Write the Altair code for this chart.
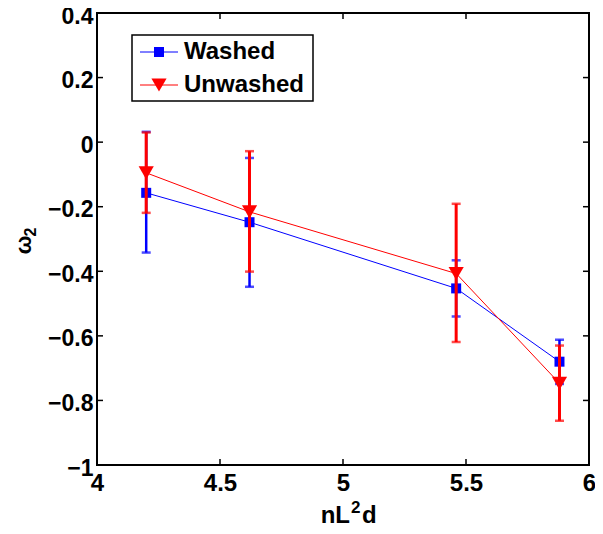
import altair as alt
import pandas as pd

# ---- data ----
x_vals = [4.20, 4.62, 5.46, 5.88]
washed_y = [-0.157, -0.248, -0.453, -0.680]
washed_lo = [-0.342, -0.448, -0.540, -0.749]
washed_hi = [0.032, -0.049, -0.366, -0.612]
unwashed_y = [-0.095, -0.216, -0.407, -0.747]
unwashed_lo = [-0.219, -0.401, -0.619, -0.863]
unwashed_hi = [0.030, -0.028, -0.191, -0.630]

x_ticks = [4, 4.5, 5, 5.5, 6]
y_ticks = [-1, -0.8, -0.6, -0.4, -0.2, 0, 0.2, 0.4]

FONT = "Liberation Sans"
W, H = 492, 452
FS = 24

def frame(name, ys, lo, hi):
    return pd.DataFrame({"x": x_vals, "y": ys, "lo": lo, "hi": hi, "series": name})

washed = frame("Washed", washed_y, washed_lo, washed_hi)
unwashed = frame("Unwashed", unwashed_y, unwashed_lo, unwashed_hi)

xs = alt.Scale(domain=[4, 6], nice=False, zero=False)
ys = alt.Scale(domain=[-1, 0.4], nice=False, zero=False)

X = alt.X("x:Q", scale=xs, axis=alt.Axis(
    values=x_ticks, title=None, grid=False, domain=False, ticks=False,
    labelFont=FONT, labelFontSize=FS, labelFontWeight="bold", labelPadding=6,
    labelFlush=False, labelOverlap=False, labelColor="black", format="~g"))
Y = alt.Y("y:Q", scale=ys, axis=alt.Axis(
    values=y_ticks, title=None, grid=False, domain=False, ticks=False,
    labelFont=FONT, labelFontSize=23, labelFontWeight="bold", labelPadding=4,
    labelFlush=False, labelOverlap=False, labelOffset=3, labelColor="black", format="~g"))

def series_layers(df, color, shape, size, bar_w):
    base = alt.Chart(df)
    line = base.mark_line(color=color, strokeWidth=1).encode(x=X, y=Y)
    bars = base.mark_rule(color=color, strokeWidth=bar_w).encode(
        x=alt.X("x:Q", scale=xs), y=alt.Y("lo:Q", scale=ys), y2="hi:Q")
    cap_lo = base.mark_tick(color=color, orient="horizontal", size=9, thickness=2.5).encode(
        x=alt.X("x:Q", scale=xs), y=alt.Y("lo:Q", scale=ys))
    cap_hi = base.mark_tick(color=color, orient="horizontal", size=9, thickness=2.5).encode(
        x=alt.X("x:Q", scale=xs), y=alt.Y("hi:Q", scale=ys))
    pts = base.mark_point(shape=shape, size=size, filled=True, color=color, opacity=1).encode(
        x=alt.X("x:Q", scale=xs), y=alt.Y("y:Q", scale=ys))
    return [line, bars, cap_lo, cap_hi, pts]

layers = []
layers += series_layers(washed, "#0000ff", "square", 100, 2.5)
layers += series_layers(unwashed, "#ff0000", "triangle-down", 230, 3)

# inward tick marks on all four sides
xt = alt.Chart(pd.DataFrame({"t": x_ticks}))
yt = alt.Chart(pd.DataFrame({"t": y_ticks}))
tick_style = dict(color="black", strokeWidth=1.5)
layers += [
    xt.mark_rule(**tick_style).encode(x=alt.X("t:Q", scale=xs), y=alt.value(H), y2=alt.value(H - 6)),
    xt.mark_rule(**tick_style).encode(x=alt.X("t:Q", scale=xs), y=alt.value(0), y2=alt.value(6)),
    yt.mark_rule(**tick_style).encode(y=alt.Y("t:Q", scale=ys), x=alt.value(0), x2=alt.value(6)),
    yt.mark_rule(**tick_style).encode(y=alt.Y("t:Q", scale=ys), x=alt.value(W), x2=alt.value(W - 6)),
]

one = alt.Data(values=[{}])
lg = alt.Chart(one)

# axis titles (with real super/subscripts)
bold = dict(font=FONT, fontWeight="bold", color="black")
layers += [
    lg.mark_text(text="nL", fontSize=FS, align="right", baseline="alphabetic", **bold).encode(
        x=alt.value(253), y=alt.value(510)),
    lg.mark_text(text="2", fontSize=17, align="left", baseline="alphabetic", **bold).encode(
        x=alt.value(254), y=alt.value(500)),
    lg.mark_text(text="d", fontSize=FS, align="left", baseline="alphabetic", **bold).encode(
        x=alt.value(265), y=alt.value(510)),
    lg.mark_text(text="ω", fontSize=22, angle=270, align="center", baseline="middle", **bold).encode(
        x=alt.value(-73), y=alt.value(232)),
    lg.mark_text(text="2", fontSize=16, angle=270, align="center", baseline="middle", **bold).encode(
        x=alt.value(-66), y=alt.value(219)),
]

# legend box
layers += [
    lg.mark_rect(fill="white", stroke="black", strokeWidth=1.5).encode(
        x=alt.value(35), x2=alt.value(216), y=alt.value(22), y2=alt.value(88)),
    lg.mark_rule(color="#0000ff", strokeWidth=1).encode(x=alt.value(43), x2=alt.value(81), y=alt.value(39)),
    lg.mark_point(shape="square", size=100, filled=True, color="#0000ff", opacity=1).encode(
        x=alt.value(62), y=alt.value(39)),
    lg.mark_text(text="Washed", fontSize=FS, align="left", baseline="middle", **bold).encode(
        x=alt.value(87), y=alt.value(39)),
    lg.mark_rule(color="#ff0000", strokeWidth=1).encode(x=alt.value(43), x2=alt.value(81), y=alt.value(72)),
    lg.mark_point(shape="triangle-down", size=230, filled=True, color="#ff0000", opacity=1).encode(
        x=alt.value(62), y=alt.value(72)),
    lg.mark_text(text="Unwashed", fontSize=FS, align="left", baseline="middle", **bold).encode(
        x=alt.value(87), y=alt.value(72)),
]

chart = alt.layer(*layers).properties(
    width=W, height=H,
    autosize=alt.AutoSizeParams(type="none"),
    padding={"left": 89, "top": 5, "right": 6, "bottom": 61},
    background="white",
).configure_view(stroke="black", strokeWidth=2)

chart.save("out.html", embed_options={"renderer": "svg", "actions": False})
